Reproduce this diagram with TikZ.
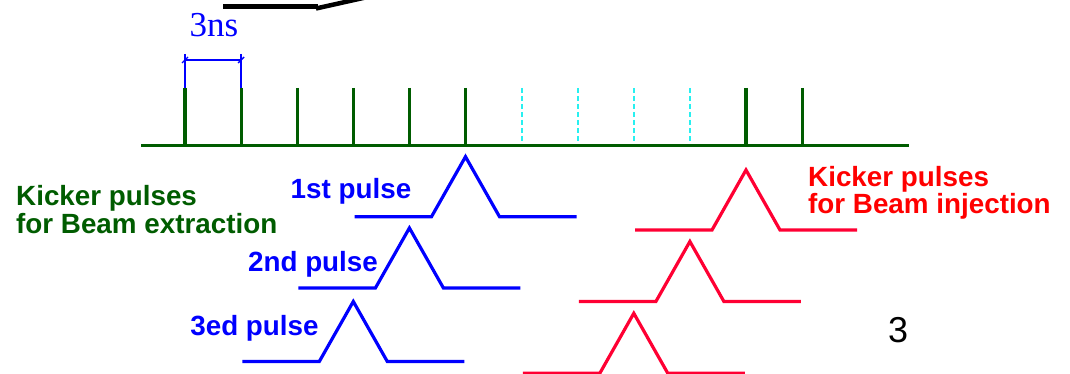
\documentclass[tikz,border=0pt]{standalone}
\usepackage{fontspec}
\setmainfont{Liberation Serif}
\newfontfamily\arialf{Liberation Sans}
\definecolor{dgreen}{RGB}{0,92,0}
\definecolor{pblue}{RGB}{0,0,255}
\definecolor{pred}{RGB}{255,0,51}
\definecolor{tred}{RGB}{255,0,0}
\definecolor{lcyan}{RGB}{40,240,240}
\begin{document}
\begin{tikzpicture}[x=1pt,y=-1pt,
  greentick/.style={draw=dgreen,line width=3.2pt},
  ghosttick/.style={draw=lcyan,line width=1.8pt,dash pattern=on 5pt off 3pt},
  axisline/.style={draw=dgreen,line width=3.4pt},
  bluepulse/.style={draw=pblue,line width=3.2pt,line join=miter},
  redpulse/.style={draw=pred,line width=3.2pt,line join=miter},
  lbl/.style={inner sep=0pt,font=\arialf\bfseries\fontsize{27.8}{28}\selectfont},
  dimline/.style={draw=pblue,line width=1.3pt}]
\useasboundingbox (0,0) rectangle (1070,374);
\clip (0,0) rectangle (1070,374);
% top black fragment
\draw[line width=5.5pt] (223,6.7) -- (318,6.7);
\draw[line width=4.5pt] (316,8.5) -- (372,-4);
% pulse train
\foreach \i in {0,...,5,10,11}
  \draw[greentick] ({185+56.1*\i},88) -- ({185+56.1*\i},145);
\foreach \i in {6,...,9}
  \draw[ghosttick] ({185+56.1*\i},88) -- ({185+56.1*\i},145);
\draw[axisline] (141,145.3) -- (909,145.3);
% dimension 3ns
\draw[dimline] (185,54) -- (185,88);
\draw[dimline] (241.1,54) -- (241.1,88);
\draw[dimline] (185,60) -- (241.1,60);
\draw[dimline] (182,63) -- (188,57);
\draw[dimline] (238.1,63) -- (244.1,57);
\node[inner sep=0pt,anchor=base,text=pblue,font=\fontsize{35}{36}\selectfont] (dim) at (214,37) {3ns};
% blue pulses (beam extraction)
\foreach \c/\b in {465.5/216.7, 409.4/288, 353.3/361.5}
  \draw[bluepulse] (\c-111,\b) -- (\c-34,\b) -- (\c,\b-60) -- (\c+34,\b) -- (\c+111,\b);
% red pulses (beam injection)
\foreach \c/\b in {746/230, 689.9/301.5, 633.8/373.3}
  \draw[redpulse] (\c-111,\b) -- (\c-34,\b) -- (\c,\b-60) -- (\c+34,\b) -- (\c+111,\b);
% labels
\node[lbl,anchor=base west,text=dgreen] (ext1) at (16,205) {Kicker pulses};
\node[lbl,anchor=base west,text=dgreen] (ext2) at (16,233) {for Beam extraction};
\node[lbl,anchor=base,text=pblue] (p1) at (351,198.5) {1st pulse};
\node[lbl,anchor=base,text=pblue] (p2) at (313,271.5) {2nd pulse};
\node[lbl,anchor=base,text=pblue] (p3) at (254.5,335) {3ed pulse};
\node[lbl,anchor=base west,text=tred] (inj1) at (808,186) {Kicker pulses};
\node[lbl,anchor=base west,text=tred] (inj2) at (808,214) {for Beam injection};
\node[inner sep=0pt,anchor=base,font=\arialf\fontsize{36}{38}\selectfont] (pg) at (898,342.5) {3};
\end{tikzpicture}
\end{document}
